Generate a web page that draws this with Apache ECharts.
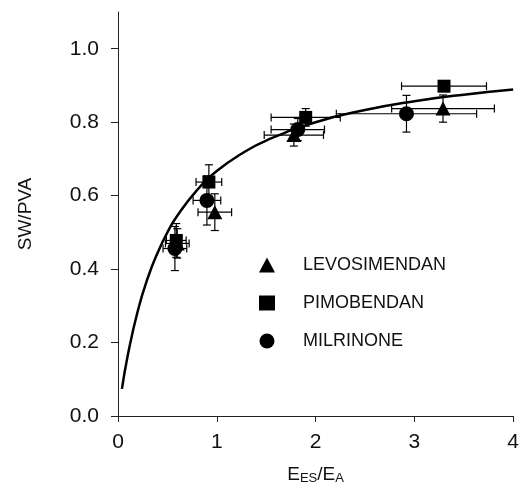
<!DOCTYPE html>
<html>
<head>
<meta charset="utf-8">
<script src="https://cdn.jsdelivr.net/npm/echarts@6/dist/echarts.min.js"></script>
<style>
  html, body { margin: 0; padding: 0; background: #fff; }
  #chart { width: 522px; height: 493px; }
</style>
</head>
<body>
<div id="chart"></div>
<script>
// fitted curve
const curveX = [0.04, 0.1, 0.2, 0.3, 0.4, 0.5, 0.6, 0.8, 1.0, 1.25, 1.5, 2.0, 2.5, 3.0, 3.5, 4.0];
const curveY = [0.074, 0.167, 0.286, 0.375, 0.444, 0.5, 0.545, 0.615, 0.667, 0.714, 0.75, 0.8, 0.833, 0.857, 0.875, 0.889];

// LEVOSIMENDAN
const levoX = [0.60, 0.98, 1.78, 3.29];
const levoY = [0.47, 0.555, 0.765, 0.837];
const levoXErr = [0.12, 0.17, 0.30, 0.52];
const levoYErr = [0.04, 0.05, 0.03, 0.037];

// PIMOBENDAN
const pimoX = [0.59, 0.92, 1.90, 3.30];
const pimoY = [0.478, 0.637, 0.813, 0.898];
const pimoXErr = [0.10, 0.13, 0.35, 0.43];
const pimoYErr = [0.046, 0.047, 0.024, 0.01];

// MILRINONE
const milX = [0.576, 0.90, 1.82, 2.92];
const milY = [0.456, 0.587, 0.78, 0.823];
const milXErr = [0.12, 0.14, 0.27, 0.71];
const milYErr = [0.06, 0.067, 0.03, 0.05];

const yTicks = [0, 0.2, 0.4, 0.6, 0.8, 1.0];
const xTicks = [0, 1, 2, 3, 4];

const FONT = 'Liberation Sans, Arial, sans-serif';

const zip = (xs, ys) => xs.map((x, i) => [x, ys[i]]);

// 误差线：用 custom 系列画十字和端帽
const errorSeries = (name, xs, ys, xe, ye) => ({
    name: name,
    type: 'custom',
    z: 3,
    data: xs.map((x, i) => [x, ys[i], xe[i], ye[i]]),
    renderItem: (params, api) => {
        const x = api.value(0), y = api.value(1), dx = api.value(2), dy = api.value(3);
        const l = api.coord([x - dx, y]), r = api.coord([x + dx, y]);
        const t = api.coord([x, y + dy]), b = api.coord([x, y - dy]);
        const c = 4;
        const style = {stroke: '#000', lineWidth: 1.2};
        const seg = (x1, y1, x2, y2) => ({type: 'line', shape: {x1, y1, x2, y2}, style});
        return {
            type: 'group',
            children: [
                seg(l[0], l[1], r[0], r[1]),
                seg(l[0], l[1] - c, l[0], l[1] + c),
                seg(r[0], r[1] - c, r[0], r[1] + c),
                seg(t[0], t[1], b[0], b[1]),
                seg(t[0] - c, t[1], t[0] + c, t[1]),
                seg(b[0] - c, b[1], b[0] + c, b[1]),
            ]
        };
    }
});

const pointSeries = (name, symbol, size, xs, ys) => ({
    name: name,
    type: 'scatter',
    symbol: symbol,
    symbolSize: size,
    z: 5,
    itemStyle: {color: '#000', opacity: 1},
    data: zip(xs, ys),
});

const chart = echarts.init(document.getElementById('chart'));

const option = {
    animation: false,
    backgroundColor: '#fff',
    textStyle: {fontFamily: FONT, color: '#111'},
    grid: {left: 118, right: 8, top: 12, bottom: 77, containLabel: false},
    legend: {
        orient: 'vertical',
        left: 254,
        top: 251,
        itemWidth: 16,
        itemHeight: 15,
        itemGap: 20,
        data: ['LEVOSIMENDAN', 'PIMOBENDAN', 'MILRINONE'],
        textStyle: {fontFamily: FONT, fontSize: 18, lineHeight: 18, color: '#111', padding: [0, 0, 0, 23]},
    },
    xAxis: {
        type: 'value',
        min: 0,
        max: 4,
        interval: 1,
        name: '{a|E}{s|ES}{a|/E}{s|A}',
        nameLocation: 'middle',
        nameGap: 49,
        nameTextStyle: {
            rich: {
                a: {fontFamily: FONT, fontSize: 19, color: '#111', verticalAlign: 'top', lineHeight: 20},
                s: {fontFamily: FONT, fontSize: 13, color: '#111', verticalAlign: 'bottom', lineHeight: 13, padding: [12, 0, 0, 0]},
            }
        },
        splitLine: {show: false},
        axisLine: {lineStyle: {color: '#222', width: 1}},
        axisTick: {show: true, inside: false, length: 6, lineStyle: {color: '#222'}, customValues: xTicks},
        axisLabel: {fontSize: 21, color: '#111', margin: 16, customValues: xTicks},
    },
    yAxis: {
        type: 'value',
        min: 0,
        max: 1.1,
        interval: 0.2,
        name: 'SW/PVA',
        nameLocation: 'middle',
        nameGap: 83,
        nameRotate: 90,
        nameTextStyle: {fontFamily: FONT, fontSize: 19, color: '#111'},
        splitLine: {show: false},
        axisLine: {show: true, lineStyle: {color: '#222', width: 1}},
        axisTick: {show: true, inside: false, length: 7, lineStyle: {color: '#222'}, customValues: yTicks},
        axisLabel: {fontSize: 21, color: '#111', margin: 19, customValues: yTicks,
            formatter: v => v.toFixed(1)},
    },
    series: [
        {
            name: 'fit',
            type: 'line',
            smooth: true,
            showSymbol: false,
            z: 2,
            lineStyle: {color: '#000', width: 2.5},
            data: zip(curveX, curveY),
        },
        errorSeries('levoErr', levoX, levoY, levoXErr, levoYErr),
        errorSeries('pimoErr', pimoX, pimoY, pimoXErr, pimoYErr),
        errorSeries('milErr', milX, milY, milXErr, milYErr),
        pointSeries('LEVOSIMENDAN', 'triangle', [15, 14], levoX, levoY),
        pointSeries('PIMOBENDAN', 'rect', 13, pimoX, pimoY),
        pointSeries('MILRINONE', 'circle', 15, milX, milY),
    ]
};
chart.setOption(option);
</script>
</body>
</html>
